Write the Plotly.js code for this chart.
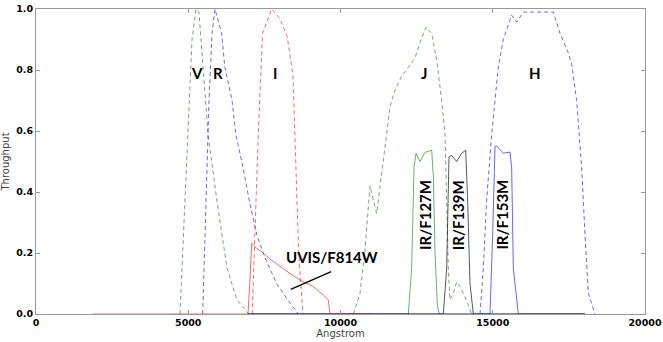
<!DOCTYPE html>
<html>
<head>
<meta charset="utf-8">
<script src="https://cdn.plot.ly/plotly-3.0.1.min.js"></script>
<style>
  html, body { margin: 0; padding: 0; background: #fff; }
  #chart { width: 663px; height: 342px; }
</style>
</head>
<body>
<div id="chart"></div>
<script>
// Ground-based filters (dashed)
const vWave = [4729, 4893, 5025, 5123, 5255, 5353, 5484, 5649, 5944, 6273, 6601, 6962];
const vThru = [0, 0.37, 0.70, 0.90, 1.0, 0.99, 0.81, 0.59, 0.37, 0.15, 0.046, 0.003];

const rWave = [5474, 5517, 5583, 5682, 5780, 5878, 6098, 6200, 6440, 6560, 6800, 7000, 7250, 7500, 7900, 8341, 8620];
const rThru = [0, 0.15, 0.37, 0.70, 0.92, 1.0, 0.92, 0.81, 0.70, 0.59, 0.48, 0.374, 0.26, 0.19, 0.10, 0.036, 0];

const iWave = [7100, 7190, 7300, 7440, 7740, 8000, 8250, 8440, 8506, 8560, 8620, 8680, 8770];
const iThru = [0, 0.265, 0.59, 0.92, 1.0, 0.97, 0.91, 0.78, 0.59, 0.40, 0.22, 0.12, 0];

const jWave = [10421, 10640, 10805, 10969, 11078, 11187, 11352, 11516, 11626, 11790, 12010, 12282, 12447, 12611, 12808, 12995, 13159, 13323, 13432, 13487, 13541, 13596, 13705, 13815, 13924, 14089, 14253, 14308];
const jThru = [0, 0.068, 0.21, 0.42, 0.374, 0.33, 0.46, 0.59, 0.68, 0.735, 0.78, 0.816, 0.84, 0.89, 0.94, 0.92, 0.833, 0.70, 0.59, 0.37, 0.15, 0.046, 0.068, 0.105, 0.089, 0.056, 0.013, 0];

const hWave = [14581, 14691, 14800, 14964, 15074, 15183, 15347, 15621, 15785, 16004, 16990, 17209, 17482, 17591, 17755, 17920, 18030, 18139, 18358];
const hThru = [0, 0.15, 0.374, 0.59, 0.70, 0.81, 0.90, 0.98, 0.957, 0.99, 0.99, 0.92, 0.856, 0.82, 0.70, 0.48, 0.26, 0.068, 0];

// HST filters (solid)
const f127Wave = [6962, 12228, 12337, 12414, 12480, 12611, 12775, 12995, 13050, 13104, 13180, 13246, 18030];
const f127Thru = [0, 0, 0.15, 0.48, 0.527, 0.50, 0.53, 0.537, 0.45, 0.20, 0.03, 0, 0];

const f139Wave = [6962, 13377, 13487, 13563, 13651, 13815, 13980, 14111, 14176, 14253, 14362, 18030];
const f139Thru = [0, 0, 0.15, 0.515, 0.52, 0.50, 0.527, 0.537, 0.37, 0.10, 0, 0];

const f153Wave = [6962, 14910, 14997, 15074, 15128, 15238, 15347, 15567, 15621, 15676, 15840, 18030];
const f153Thru = [0, 0, 0.26, 0.548, 0.551, 0.537, 0.527, 0.531, 0.48, 0.15, 0, 0];

const f814Wave = [1872, 6962, 7030, 7083, 7247, 7400, 7685, 8013, 8341, 8670, 9108, 9437, 9600, 9655, 10969];
const f814Thru = [0, 0, 0.12, 0.232, 0.215, 0.205, 0.18, 0.155, 0.133, 0.111, 0.09, 0.062, 0.046, 0, 0];

// Labels
const bandNames = ['V', 'R', 'I', 'J', 'H'];
const bandX = [5287, 5977, 7849, 12752, 16388];
const bandY = [0.79, 0.79, 0.79, 0.79, 0.79];

const irNames = ['IR/F127M', 'IR/F139M', 'IR/F153M'];
const irX = [12775, 13869, 15294];
const irY = [0.325, 0.325, 0.325];

const xTicks = [0, 5000, 10000, 15000, 20000];
const yTicks = [0, 0.2, 0.4, 0.6, 0.8, 1.0];

const green = 'rgba(0,128,0,0.6)';
const blue = 'rgba(0,0,255,0.6)';
const red = 'rgba(255,0,0,0.6)';
const black = 'rgba(0,0,0,0.65)';
const dash = '4px,3px';

function curve(x, y, color, dashed) {
  return {
    x: x, y: y, type: 'scatter', mode: 'lines', hoverinfo: 'skip',
    line: { color: color, width: 1, dash: dashed ? dash : 'solid' }
  };
}

const traces = [
  curve(vWave, vThru, green, true),
  curve(rWave, rThru, blue, true),
  curve(iWave, iThru, red, true),
  curve(jWave, jThru, green, true),
  curve(hWave, hThru, blue, true),
  curve(f127Wave, f127Thru, green, false),
  curve(f139Wave, f139Thru, black, false),
  curve(f153Wave, f153Thru, blue, false),
  curve(f814Wave, f814Thru, red, false)
];

const labelFont = { family: 'Lato, "Open Sans", sans-serif', size: 15, color: '#000', weight: 700 };

const annotations = [];
bandNames.forEach((t, i) => {
  annotations.push({ x: bandX[i], y: bandY[i], text: t, showarrow: false, font: labelFont });
});
irNames.forEach((t, i) => {
  annotations.push({ x: irX[i], y: irY[i], text: t, showarrow: false, textangle: -90, font: labelFont });
});
annotations.push({ x: 9737, y: 0.188, text: 'UVIS/F814W', showarrow: false, font: labelFont });
annotations.push({
  x: 8365, y: 0.081, ax: 9744, ay: 0.141, axref: 'x', ayref: 'y',
  text: '', showarrow: true, arrowhead: 0, arrowwidth: 1.3, arrowcolor: '#000'
});

const axisCommon = {
  showline: true, linecolor: '#999', linewidth: 1, mirror: 'ticks',
  ticks: 'inside', ticklen: 4, tickcolor: '#999', showgrid: false, zeroline: false,
  tickfont: { family: 'DejaVu Sans', size: 9.5, color: '#000', weight: 700 }
};

const layout = {
  width: 663, height: 342,
  margin: { l: 36, r: 18, t: 9, b: 28 },
  paper_bgcolor: '#fff', plot_bgcolor: '#fff',
  showlegend: false,
  xaxis: Object.assign({}, axisCommon, {
    range: [0, 20000], tickvals: xTicks, ticktext: xTicks.map(String),
    title: { text: 'Angstrom', standoff: 2, font: { family: 'DejaVu Sans', size: 10, color: '#444' } }
  }),
  yaxis: Object.assign({}, axisCommon, {
    range: [0, 1], tickvals: yTicks, ticktext: yTicks.map(v => v.toFixed(1)),
    title: { text: 'Throughput', standoff: 6, font: { family: 'DejaVu Sans', size: 10, color: '#444' } }
  }),
  annotations: annotations
};

Plotly.newPlot('chart', traces, layout, { displayModeBar: false, staticPlot: true });
</script>
</body>
</html>
